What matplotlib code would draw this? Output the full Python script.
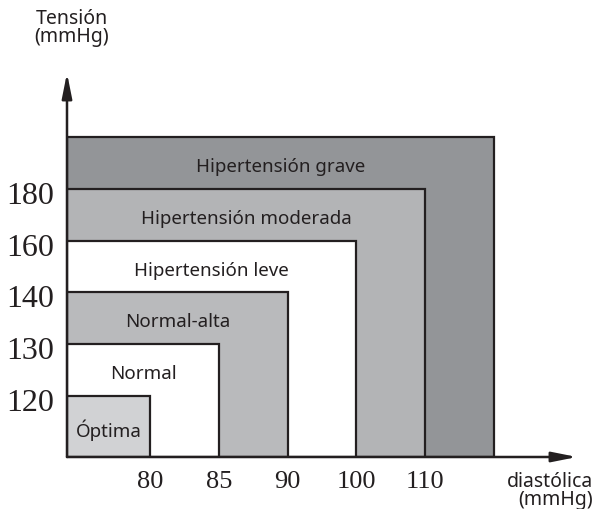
import matplotlib
matplotlib.use("Agg")
import matplotlib.pyplot as plt
from matplotlib.patches import Rectangle
from matplotlib.transforms import ScaledTranslation

# Blood-pressure classification bands (nested from the origin)
categories = ["Óptima", "Normal", "Normal-alta", "Hipertensión leve",
              "Hipertensión moderada", "Hipertensión grave"]
systolic_labels = ["120", "130", "140", "160", "180"]
diastolic_labels = ["80", "85", "90", "100", "110"]
band_colors = ["#d1d2d4", "#ffffff", "#b9babc", "#ffffff", "#b3b4b6", "#939598"]

INK = "#231f20"
SANS = ["Noto Sans", "DejaVu Sans"]
SERIF = ["Liberation Serif", "DejaVu Serif"]

fig = plt.figure(figsize=(5.94, 5.09), dpi=100)
ax = fig.add_axes([67 / 594, 52 / 509, 510 / 594, 384 / 509])

x0, y0 = -0.21, -0.18
ax.set_xlim(x0, 7.21)
ax.set_ylim(y0, 7.24)

levels = list(range(1, len(categories) + 1))

# Largest band first, smaller ones drawn on top
for lvl, color in sorted(zip(levels, band_colors), reverse=True):
    ax.add_patch(Rectangle((x0, y0), lvl - x0, lvl - y0, facecolor=color,
                           edgecolor=INK, linewidth=1.6, zorder=2))

# Band names, centred in the visible strip of each band
for lvl, name in zip(levels, categories):
    lower = y0 if lvl == 1 else lvl - 1
    ax.text((x0 + lvl) / 2, (lower + lvl) / 2 - 0.08, name, ha="center",
            va="center", fontsize=13.5, color=INK, family=SANS,
            fontweight="medium", zorder=3)

for s in ax.spines.values():
    s.set_visible(False)

ax.set_xticks(levels[:len(diastolic_labels)])
ax.set_xticklabels(diastolic_labels, family=SERIF, fontsize=19, color=INK)
ax.set_yticks(levels[:len(systolic_labels)])
ax.set_yticklabels(systolic_labels, family=SERIF, fontsize=23, color=INK)
ax.tick_params(axis="x", length=0, pad=10)
ax.tick_params(axis="y", length=0, pad=9)
shift = ScaledTranslation(0, -4 / 100, fig.dpi_scale_trans)
for lab in ax.get_yticklabels():
    lab.set_transform(lab.get_transform() + shift)

# Axes drawn as arrows
arrow = dict(arrowstyle="-|>,head_length=1.0,head_width=0.2",
             mutation_scale=15, color=INK, lw=1.8, shrinkA=0, shrinkB=0)
ax.annotate("", xy=(0, 1), xytext=(0, 0), xycoords="axes fraction",
            arrowprops=arrow, annotation_clip=False, zorder=5)
ax.annotate("", xy=(1, 0), xytext=(0, 0), xycoords="axes fraction",
            arrowprops=arrow, annotation_clip=False, zorder=5)

fig.text(72 / 594, 1 - 28 / 509, "Tensión\n(mmHg)", ha="center", va="center",
         fontsize=14, color=INK, family=SANS, linespacing=0.9)
fig.text(593 / 594, 1 - 491 / 509, "diastólica\n(mmHg)", ha="right",
         va="center", fontsize=14, color=INK, family=SANS, linespacing=0.9,
         multialignment="right")

fig.savefig("out.png", dpi=100)
